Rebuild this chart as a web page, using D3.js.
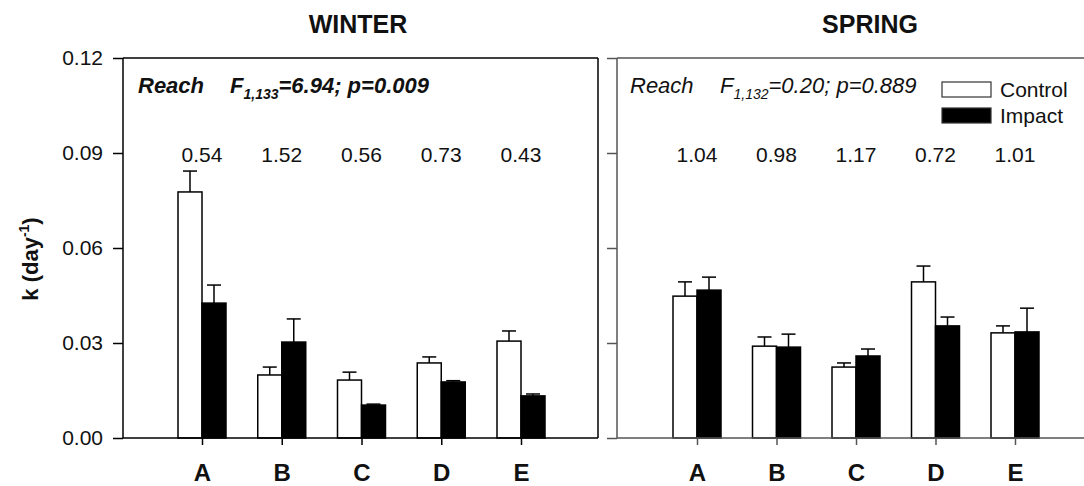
<!DOCTYPE html>
<html>
<head>
<style>
  body { margin: 0; background: #fff; }
  text { font-family: "Liberation Sans", Arial, sans-serif; fill: #111; }
  .title { font-size: 25px; font-weight: bold; }
  .tick-label { font-size: 21px; }
  .cat-label { font-size: 24px; font-weight: bold; }
  .ratio { font-size: 21px; }
  .note { font-size: 22px; font-style: italic; }
</style>
</head>
<body>
<svg width="1084" height="486"></svg>
<script src="https://d3js.org/d3.v7.min.js"></script>
<script>
// data
var categories = ["A", "B", "C", "D", "E"];
var yTicks = [0, 0.03, 0.06, 0.09, 0.12];

var winterControl = [0.0777, 0.0199, 0.0183, 0.0237, 0.0306];
var winterControlSe = [0.0066, 0.0025, 0.0025, 0.0019, 0.0032];
var winterImpact = [0.0426, 0.0303, 0.0104, 0.0177, 0.0133];
var winterImpactSe = [0.0057, 0.0073, 0.0003, 0.0004, 0.0006];
var winterRatios = ["0.54", "1.52", "0.56", "0.73", "0.43"];

var springControl = [0.0448, 0.0290, 0.0224, 0.0493, 0.0332];
var springControlSe = [0.0045, 0.0029, 0.0013, 0.0050, 0.0022];
var springImpact = [0.0467, 0.0287, 0.0259, 0.0354, 0.0335];
var springImpactSe = [0.0041, 0.0041, 0.0022, 0.0028, 0.0075];
var springRatios = ["1.04", "0.98", "1.17", "0.72", "1.01"];

var svg = d3.select("svg");

var plotTop = 58, plotBottom = 438, barW = 24, capW = 14;

var y = d3.scaleLinear().domain([0, 0.12]).range([plotBottom, plotTop]);

function panel(opt) {
    var g = svg.append("g");
    var x = d3.scalePoint().domain(categories).range([opt.c0, opt.c1]);

    // bars with upward error bars
    categories.forEach(function(c, i) {
        var cx = x(c);
        var sets = [
            { v: opt.control[i], se: opt.controlSe[i], x: cx - barW, fill: "#fff" },
            { v: opt.impact[i], se: opt.impactSe[i], x: cx, fill: "#000" }
        ];
        sets.forEach(function(s) {
            var mid = s.x + barW / 2;
            g.append("line")
                .attr("x1", mid).attr("x2", mid)
                .attr("y1", y(s.v)).attr("y2", y(s.v + s.se))
                .attr("stroke", "#000").attr("stroke-width", 1.5);
            g.append("line")
                .attr("x1", mid - capW / 2).attr("x2", mid + capW / 2)
                .attr("y1", y(s.v + s.se)).attr("y2", y(s.v + s.se))
                .attr("stroke", "#000").attr("stroke-width", 1.5);
            g.append("rect")
                .attr("x", s.x).attr("y", y(s.v))
                .attr("width", barW).attr("height", y(0) - y(s.v))
                .attr("fill", s.fill)
                .attr("stroke", "#000").attr("stroke-width", 1.5);
        });
        g.append("text").attr("class", "ratio")
            .attr("x", cx).attr("y", 162)
            .attr("text-anchor", "middle")
            .text(opt.ratios[i]);
    });

    // axes
    var yAxis = d3.axisLeft(y).tickValues(yTicks).tickSize(10).tickPadding(10)
        .tickFormat(opt.labels ? d3.format(".2f") : "");
    var ya = g.append("g").attr("transform", "translate(" + opt.x0 + ",0)").call(yAxis);
    ya.select(".domain").remove();
    ya.append("line").attr("x1", 0).attr("x2", 0).attr("y1", plotTop).attr("y2", plotBottom);
    ya.selectAll("line").attr("stroke", opt.color).attr("stroke-width", 1.5);
    ya.selectAll("text").attr("class", "tick-label").attr("fill", "#111")
        .style("font-family", "Liberation Sans, Arial, sans-serif");

    var xAxis = d3.axisBottom(x).tickSize(7).tickPadding(19);
    var xa = g.append("g").attr("transform", "translate(0," + plotBottom + ")").call(xAxis);
    xa.select(".domain").remove();
    xa.selectAll("line").attr("stroke", opt.color).attr("stroke-width", 1.5);
    xa.selectAll("text").attr("class", "cat-label").attr("fill", "#111")
        .style("font-family", "Liberation Sans, Arial, sans-serif");

    // frame lines
    g.append("line").attr("x1", opt.x0).attr("x2", opt.x1).attr("y1", plotBottom).attr("y2", plotBottom)
        .attr("stroke", opt.color).attr("stroke-width", 1.5);
    g.append("line").attr("x1", opt.x0).attr("x2", opt.x1).attr("y1", plotTop).attr("y2", plotTop)
        .attr("stroke", opt.color).attr("stroke-width", 1.5);
    if (opt.rightBorder) {
        g.append("line").attr("x1", opt.x1).attr("x2", opt.x1).attr("y1", plotTop).attr("y2", plotBottom)
            .attr("stroke", opt.color).attr("stroke-width", 1.5);
    }

    // title
    g.append("text").attr("class", "title")
        .attr("x", opt.titleX).attr("y", 33)
        .attr("text-anchor", "middle").text(opt.title);

    // stats note
    var note = g.append("text").attr("class", "note")
        .attr("x", opt.noteX).attr("y", 93)
        .style("font-weight", opt.bold ? "bold" : "normal");
    note.append("tspan").text("Reach");
    note.append("tspan").attr("x", opt.fX).text("F");
    note.append("tspan").attr("dy", 6).style("font-size", "14px").text(opt.df);
    note.append("tspan").attr("dy", -6).text(opt.stat);
}

panel({
    x0: 123, x1: 598, c0: 202, c1: 521, color: "#000", labels: true, rightBorder: true,
    control: winterControl, controlSe: winterControlSe,
    impact: winterImpact, impactSe: winterImpactSe,
    ratios: winterRatios, title: "WINTER", titleX: 358,
    bold: true, noteX: 138, fX: 230, df: "1,133", stat: "=6.94; p=0.009"
});

panel({
    x0: 617, x1: 1084, c0: 697, c1: 1015, color: "#555", labels: false, rightBorder: false,
    control: springControl, controlSe: springControlSe,
    impact: springImpact, impactSe: springImpactSe,
    ratios: springRatios, title: "SPRING", titleX: 870,
    bold: false, noteX: 630, fX: 720, df: "1,132", stat: "=0.20; p=0.889"
});

// y axis title
var yl = svg.append("text")
    .attr("transform", "translate(38,259) rotate(-90)")
    .attr("text-anchor", "middle")
    .style("font-size", "22px").style("font-weight", "bold");
yl.append("tspan").text("k (day");
yl.append("tspan").attr("dy", -9).style("font-size", "14px").text("-1");
yl.append("tspan").attr("dy", 9).text(")");

// legend
var legend = svg.append("g").attr("transform", "translate(942,82)");
[["Control", "#fff"], ["Impact", "#000"]].forEach(function(d, i) {
    legend.append("rect")
        .attr("x", 0).attr("y", i * 26)
        .attr("width", 49).attr("height", 15)
        .attr("fill", d[1]).attr("stroke", "#333").attr("stroke-width", 1.2);
    legend.append("text")
        .attr("x", 58).attr("y", i * 26 + 15)
        .style("font-size", "21px")
        .text(d[0]);
});
</script>
</body>
</html>
